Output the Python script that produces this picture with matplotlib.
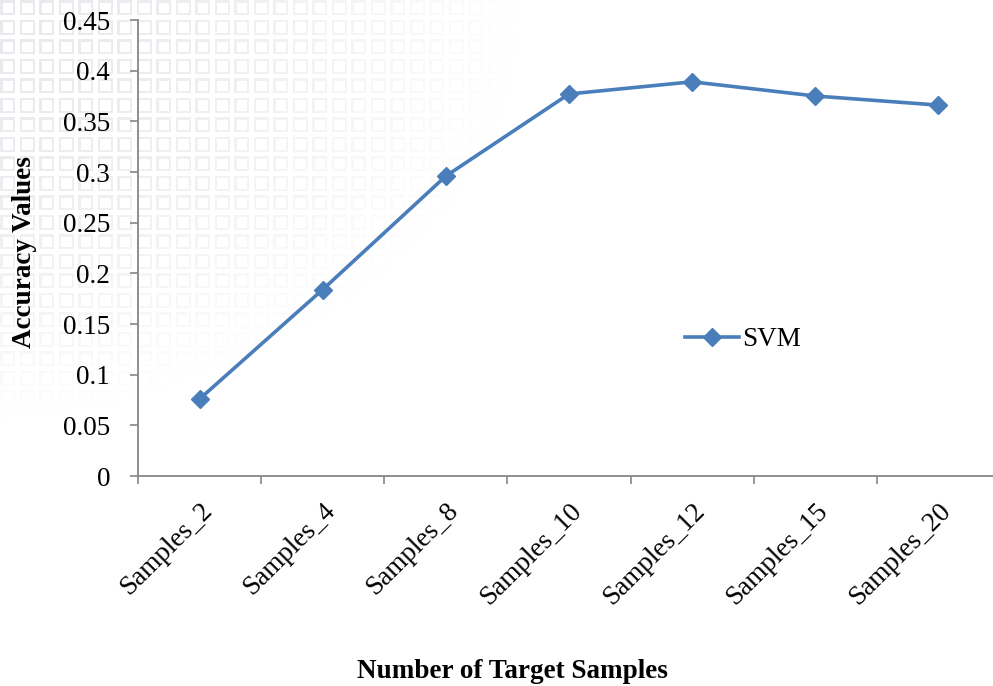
import numpy as np
import matplotlib
matplotlib.use("Agg")
import matplotlib.pyplot as plt

categories = ["Samples_2", "Samples_4", "Samples_8", "Samples_10", "Samples_12", "Samples_15", "Samples_20"]
svm = [0.076, 0.184, 0.296, 0.377, 0.389, 0.375, 0.366]
yticks = [0, 0.05, 0.1, 0.15, 0.2, 0.25, 0.3, 0.35, 0.4, 0.45]
ytick_labels = ["0", "0.05", "0.1", "0.15", "0.2", "0.25", "0.3", "0.35", "0.4", "0.45"]

plt.rcParams['font.family'] = ['Liberation Serif', 'DejaVu Serif']

W, H = 993, 686
fig = plt.figure(figsize=(W / 100, H / 100), dpi=100)

# faint decorative background pattern (watermark) in the top-left
bg = fig.add_axes([0, 0, 1, 1], zorder=-10)
img = np.ones((H, W, 3))
yy, xx = np.mgrid[0:H, 0:W]
pitch = 19.5
u = (xx % pitch)
v = (yy % pitch)
outline = (((u < 2.2) | ((u > 12.5) & (u < 14.7))) & (v < 14.7)) | (((v < 2.2) | ((v > 12.5) & (v < 14.7))) & (u < 14.7))
fade = np.clip(1 - (xx / 520.0) ** 1.6 - (yy / 420.0) ** 2.2, 0, 1)
strength = outline * fade * 0.20
col = np.array([0.58, 0.60, 0.66])
img = img * (1 - strength[..., None]) + col * strength[..., None]
bg.imshow(img, extent=[0, W, H, 0], aspect='auto')
bg.set_axis_off()

axw = 1000 - 138
ax = fig.add_axes([138 / W, 1 - 476 / H, axw / W, (476 - 20) / H])
ax.patch.set_alpha(0)

x = np.arange(len(categories))
ax.plot(x, svm, color='#4a7ebb', lw=2.6, marker='D', markersize=9,
        markeredgecolor='#4a7ebb', markerfacecolor='#4a7ebb', label='SVM', clip_on=False)

ax.set_xlim(-0.5, len(categories) - 0.5)
ax.set_ylim(0, 0.45)
ax.set_yticks(yticks)
ax.set_yticklabels(ytick_labels, fontsize=19.5)

ax.set_xticks(x)
ax.set_xticklabels(categories, rotation=45, ha='right', rotation_mode='anchor', fontsize=19.5)
ax.set_xticks(np.arange(-0.5, len(categories) + 0.5, 1), minor=True)
ax.tick_params(axis='x', which='major', length=0, pad=16)
ax.tick_params(axis='x', which='minor', length=6, color='#868686', width=1.2)
ax.tick_params(axis='y', length=6, color='#868686', width=1.2, pad=14)

for s in ['top', 'right']:
    ax.spines[s].set_visible(False)
for s in ['left', 'bottom']:
    ax.spines[s].set_color('#868686')
    ax.spines[s].set_linewidth(1.3)

fig.text(25 / W, 1 - 252 / H, 'Accuracy Values', rotation=90, ha='center', va='center',
         fontsize=19.5, fontweight='bold')
fig.text(512 / W, 1 - 672 / H, 'Number of Target Samples', ha='center', va='center',
         fontsize=19.5, fontweight='bold')

leg = ax.legend(loc='center left', bbox_to_anchor=((685 - 138) / axw, 1 - (340 - 20) / (476 - 20)),
                frameon=False, fontsize=19.5, handlelength=2.0, handletextpad=0.1,
                borderaxespad=0, borderpad=0)

fig.savefig('out.png', dpi=100)
